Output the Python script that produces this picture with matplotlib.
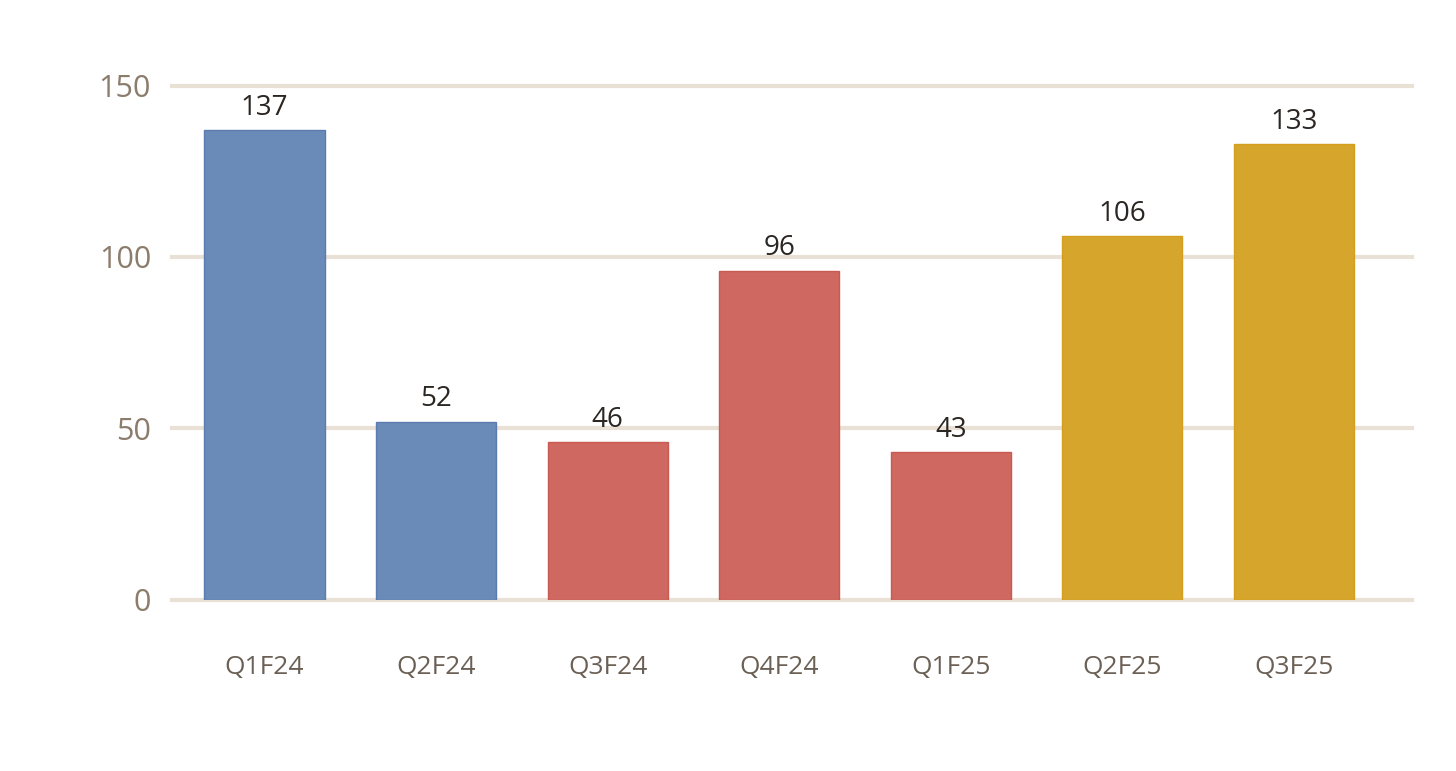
import matplotlib
matplotlib.use("Agg")
import matplotlib.pyplot as plt

quarters = ["Q1F24", "Q2F24", "Q3F24", "Q4F24", "Q1F25", "Q2F25", "Q3F25"]
values = [137, 52, 46, 96, 43, 106, 133]
bar_colors = ["#6a8ab8", "#6a8ab8", "#cf6860", "#cf6860", "#cf6860", "#d5a52c", "#d5a52c"]
edge_colors = ["#5a7cae", "#5a7cae", "#c85a52", "#c85a52", "#c85a52", "#d49f1c", "#d49f1c"]
yticks = [0, 50, 100, 150]

plt.rcParams["font.family"] = ["Open Sans", "DejaVu Sans"]

fig = plt.figure(figsize=(14.56, 7.71), dpi=100)
ax = fig.add_axes([0.118, 0.222, 0.852, 0.667])

x = list(range(len(quarters)))
ax.bar(x, values, width=0.70, color=bar_colors, edgecolor=edge_colors, linewidth=1, zorder=3)

for xi, v in zip(x, values):
    ax.annotate(str(v), (xi, v), xytext=(0, 6), textcoords="offset points",
                ha="center", va="bottom", fontsize=20, color="#2b2622", zorder=4)

ax.set_xlim(-0.54, 6.69)
ax.set_ylim(0, 150)
ax.set_yticks(yticks)
ax.set_xticks(x)
ax.set_xticklabels(quarters)
ax.yaxis.grid(True, color="#e9e1d5", linewidth=3, zorder=0)
ax.set_axisbelow(True)
ax.tick_params(axis="y", length=0, pad=15, labelsize=22, labelcolor="#8c7c6c")
ax.tick_params(axis="x", length=0, pad=40, labelsize=19, labelcolor="#6b6055")
for s in ax.spines.values():
    s.set_visible(False)
for gl in ax.get_ygridlines():
    gl.set_clip_on(False)

fig.savefig("out.png", dpi=100)
